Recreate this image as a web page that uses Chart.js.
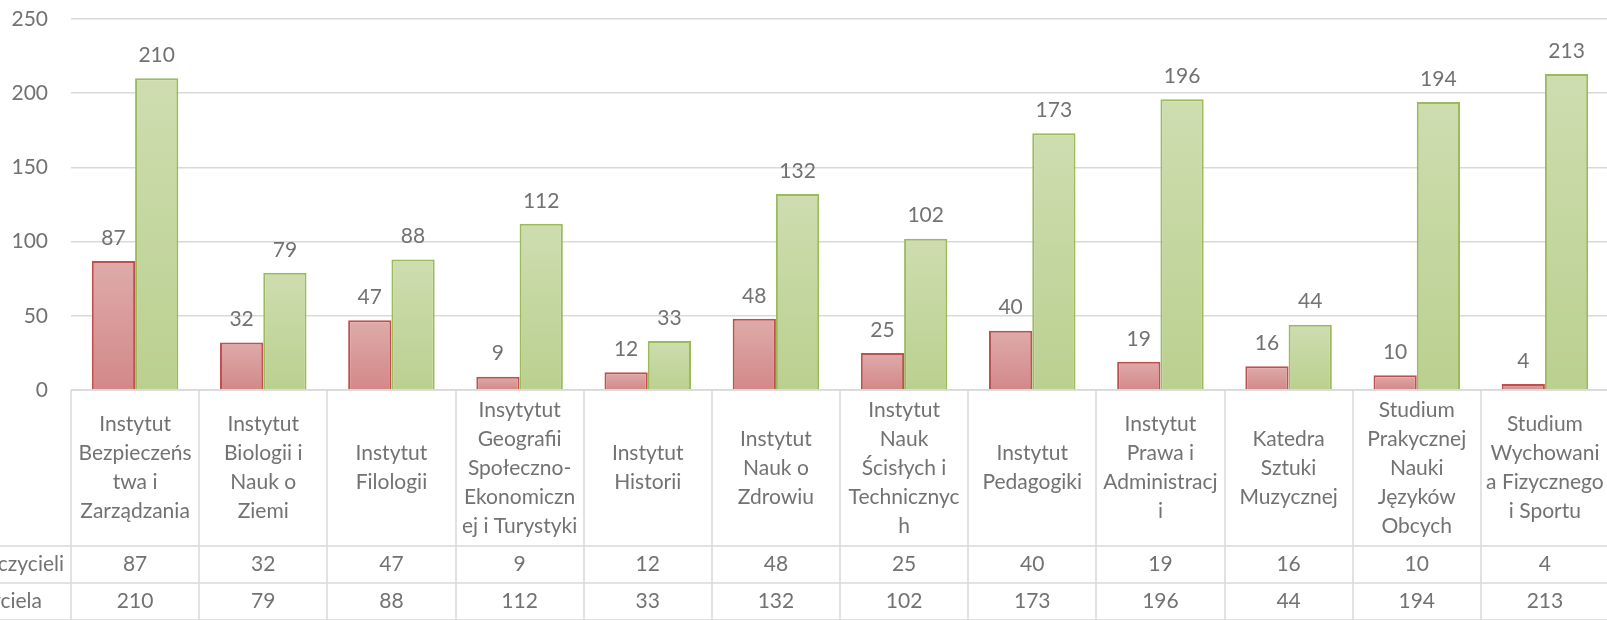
<!DOCTYPE html>
<html>
<head>
<meta charset="utf-8">
<script src="https://cdn.jsdelivr.net/npm/chart.js@4"></script>
<style>
  html, body { margin: 0; padding: 0; background: #fff; overflow: hidden; width: 1607px; height: 620px; }
  #wrap { position: absolute; left: -200px; top: 0; width: 1820px; height: 620px; }
</style>
</head>
<body>
<div id="wrap"><canvas id="c" width="1820" height="620"></canvas></div>
<script>
// ---- data ----
const categories = [
  ["Instytut", "Bezpieczeńs", "twa i", "Zarządzania"],
  ["Instytut", "Biologii i", "Nauk o", "Ziemi"],
  ["Instytut", "Filologii"],
  ["Insytytut", "Geografii", "Społeczno-", "Ekonomiczn", "ej i Turystyki"],
  ["Instytut", "Historii"],
  ["Instytut", "Nauk o", "Zdrowiu"],
  ["Instytut", "Nauk", "Ścisłych i", "Technicznyc", "h"],
  ["Instytut", "Pedagogiki"],
  ["Instytut", "Prawa i", "Administracj", "i"],
  ["Katedra", "Sztuki", "Muzycznej"],
  ["Studium", "Prakycznej", "Nauki", "Języków", "Obcych"],
  ["Studium", "Wychowani", "a Fizycznego", "i Sportu"]
];
const seriesNames = ["Liczba nauczycieli", "Liczba studentów na nauczyciela"];
const teachers = [87, 32, 47, 9, 12, 48, 25, 40, 19, 16, 10, 4];
const students = [210, 79, 88, 112, 33, 132, 102, 173, 196, 44, 194, 213];
const yTicks = [0, 50, 100, 150, 200, 250];

// ---- styles ----
const FONT = "Lato, 'Open Sans', sans-serif";
const FS = 21;
const TEXT = "#727272";
const GRID = "#D9D9D9";

function gradFill(top, bottom) {
  return (ctx) => {
    const chart = ctx.chart;
    if (!chart.chartArea || ctx.type !== 'data') return bottom;
    const y = chart.scales.y;
    const t = y.getPixelForValue(ctx.raw);
    const b = y.getPixelForValue(0);
    if (!isFinite(t) || !isFinite(b) || t === b) return bottom;
    const g = chart.ctx.createLinearGradient(0, t, 0, b);
    g.addColorStop(0, top);
    g.addColorStop(1, bottom);
    return g;
  };
}

const tablePlugin = {
  id: 'tablePlugin',
  afterDatasetsDraw(chart) {
    const ctx = chart.ctx;
    const ca = chart.chartArea;
    const xs = chart.scales.x;
    const ys = chart.scales.y;
    const n = categories.length;
    const colW = xs.getPixelForValue(1) - xs.getPixelForValue(0);
    const top = ca.bottom;
    const r1 = top + 156, r2 = r1 + 37, r3 = r2 + 37;

    ctx.save();
    ctx.font = FS + "px " + FONT;
    ctx.fillStyle = TEXT;
    ctx.textBaseline = 'middle';

    // y-axis tick labels
    ctx.textAlign = 'right';
    yTicks.forEach(v => ctx.fillText(String(v), ca.left - 23, ys.getPixelForValue(v)));

    // data labels above bars
    ctx.textAlign = 'center';
    chart.data.datasets.forEach((ds, di) => {
      const meta = chart.getDatasetMeta(di);
      meta.data.forEach((bar, i) => {
        ctx.fillText(String(ds.data[i]), bar.x, bar.y - 23);
      });
    });
    ctx.restore();

    // table lines
    ctx.save();
    ctx.strokeStyle = GRID;
    ctx.lineWidth = 1.5;
    ctx.beginPath();
    for (let i = 0; i <= n; i++) {
      const x = Math.round(xs.getPixelForValue(i) - colW / 2);
      ctx.moveTo(x, top);
      ctx.lineTo(x, chart.height);
    }
    ctx.moveTo(0, r1); ctx.lineTo(chart.width, r1);
    ctx.moveTo(0, r2); ctx.lineTo(chart.width, r2);
    ctx.moveTo(0, r3); ctx.lineTo(chart.width, r3);
    ctx.moveTo(ca.left, top); ctx.lineTo(chart.width, top);
    ctx.stroke();
    ctx.restore();

    // table text
    ctx.save();
    ctx.font = FS + "px " + FONT;
    ctx.fillStyle = TEXT;
    ctx.textAlign = 'center';
    ctx.textBaseline = 'middle';
    const lh = 29;
    const midCat = (top + r1) / 2;
    categories.forEach((lines, i) => {
      const cx = xs.getPixelForValue(i);
      const y0 = midCat - (lines.length - 1) * lh / 2;
      lines.forEach((ln, k) => ctx.fillText(ln, cx, y0 + k * lh));
      ctx.fillText(String(teachers[i]), cx, (r1 + r2) / 2);
      ctx.fillText(String(students[i]), cx, (r2 + r3) / 2);
    });
    ctx.textAlign = 'right';
    ctx.fillText(seriesNames[0], ca.left - 7, (r1 + r2) / 2);
    ctx.fillText(seriesNames[1], ca.left - 29, (r2 + r3) / 2);
    ctx.restore();
  }
};

new Chart(document.getElementById('c'), {
  type: 'bar',
  data: {
    labels: categories.map(c => c.join(' ')),
    datasets: [
      {
        label: seriesNames[0],
        data: teachers,
        backgroundColor: gradFill('#DEABAA', '#D38888'),
        borderColor: '#C0504D',
        borderWidth: 2,
        categoryPercentage: 0.675,
        barPercentage: 1.0
      },
      {
        label: seriesNames[1],
        data: students,
        backgroundColor: gradFill('#CEDDB0', '#BAD08F'),
        borderColor: '#9BBB59',
        borderWidth: 2,
        categoryPercentage: 0.675,
        barPercentage: 1.0
      }
    ]
  },
  options: {
    responsive: false,
    animation: false,
    layout: { padding: { left: 0, right: 11, top: 19, bottom: 230 } },
    plugins: { legend: { display: false }, tooltip: { enabled: false } },
    scales: {
      x: { display: false, offset: true },
      y: {
        min: 0, max: 250,
        afterFit: (s) => { s.width = 271; },
        afterBuildTicks: (s) => { s.ticks = yTicks.map(v => ({ value: v })); },
        ticks: { display: false },
        grid: { color: GRID, lineWidth: 1.5, drawTicks: false },
        border: { display: false }
      }
    }
  },
  plugins: [tablePlugin]
});
</script>
</body>
</html>
